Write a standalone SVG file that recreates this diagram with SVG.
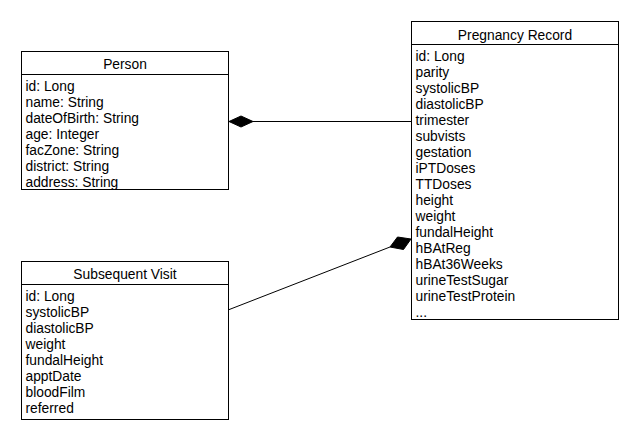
<svg xmlns="http://www.w3.org/2000/svg" width="640" height="440" viewBox="0 0 640 440">
<style>
.box{fill:#fff;stroke:#000;stroke-width:1}
.sep{stroke:#000;stroke-width:1}
text{font-family:"Liberation Sans",Arial,sans-serif;font-size:13.8px;fill:#000}
.title{text-anchor:middle}
.edge{stroke:#000;stroke-width:1;fill:none}
.dia{fill:#000;stroke:#000;stroke-width:1}
</style>
<rect width="640" height="440" fill="#fff"/>
<g id="connectors">
<line class="edge" x1="253" y1="121.5" x2="411" y2="121.5"/>
<polygon class="dia" points="229,121.5 241,116 253,121.5 241,127"/>
<line class="edge" x1="228" y1="310" x2="390" y2="247"/>
<polygon class="dia" points="411,239 397.5,237 390,247 403.5,249.5"/>
</g>
<g id="person">
<rect class="box" x="21.5" y="51.5" width="207" height="138"/>
<line class="sep" x1="21.5" y1="74.5" x2="228.5" y2="74.5"/>
<text class="title" x="125" y="69">Person</text>
<text x="25.5" y="91">id: Long</text>
<text x="25.5" y="107">name: String</text>
<text x="25.5" y="123">dateOfBirth: String</text>
<text x="25.5" y="139">age: Integer</text>
<text x="25.5" y="155">facZone: String</text>
<text x="25.5" y="171">district: String</text>
<text x="25.5" y="187">address: String</text>
</g>
<g id="pregnancy-record">
<rect class="box" x="411.5" y="21.5" width="207" height="298"/>
<line class="sep" x1="411.5" y1="44.5" x2="618.5" y2="44.5"/>
<text class="title" x="515" y="40">Pregnancy Record</text>
<text x="415.5" y="61">id: Long</text>
<text x="415.5" y="77">parity</text>
<text x="415.5" y="93">systolicBP</text>
<text x="415.5" y="109">diastolicBP</text>
<text x="415.5" y="125">trimester</text>
<text x="415.5" y="141">subvists</text>
<text x="415.5" y="157">gestation</text>
<text x="415.5" y="173">iPTDoses</text>
<text x="415.5" y="189">TTDoses</text>
<text x="415.5" y="205">height</text>
<text x="415.5" y="221">weight</text>
<text x="415.5" y="237">fundalHeight</text>
<text x="415.5" y="253">hBAtReg</text>
<text x="415.5" y="269">hBAt36Weeks</text>
<text x="415.5" y="285">urineTestSugar</text>
<text x="415.5" y="301">urineTestProtein</text>
<text x="415.5" y="317">...</text>
</g>
<g id="subsequent-visit">
<rect class="box" x="21.5" y="261.5" width="207" height="158"/>
<line class="sep" x1="21.5" y1="284.5" x2="228.5" y2="284.5"/>
<text class="title" x="125" y="279">Subsequent Visit</text>
<text x="25.5" y="301">id: Long</text>
<text x="25.5" y="317">systolicBP</text>
<text x="25.5" y="333">diastolicBP</text>
<text x="25.5" y="349">weight</text>
<text x="25.5" y="365">fundalHeight</text>
<text x="25.5" y="381">apptDate</text>
<text x="25.5" y="397">bloodFilm</text>
<text x="25.5" y="413">referred</text>
</g>
</svg>
